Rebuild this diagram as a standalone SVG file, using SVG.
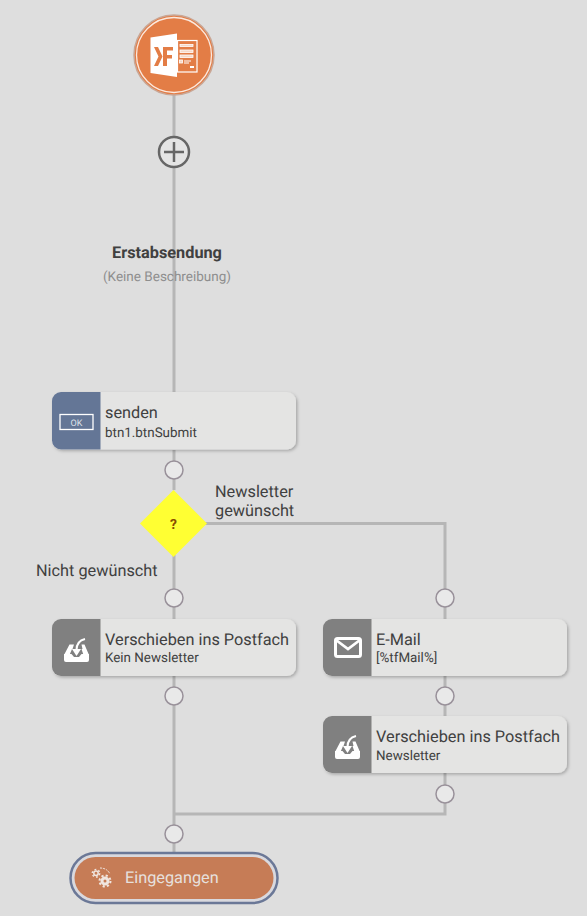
<svg xmlns="http://www.w3.org/2000/svg" width="587" height="916" viewBox="0 0 587 916">
<style>
text{font-family:Roboto,"Liberation Sans",sans-serif;text-rendering:geometricPrecision}
.line{fill:none;stroke:#b6b6b6;stroke-width:3}
.port{fill:#e9e9e9;stroke:#99919a;stroke-width:1.5}
.card{fill:#e4e4e3}
.t1{font-size:16.3px;fill:#404040}
.t2{font-size:13.4px;fill:#404040}
.lab{font-size:16.3px;fill:#404040}
.ic{fill:#fff}
</style>
<defs>
<filter id="sh" x="-10%" y="-20%" width="120%" height="140%"><feDropShadow dx="1.5" dy="1.5" stdDeviation="1.5" flood-color="#000" flood-opacity=".25"/></filter>
<g id="inbox">
<path class="ic" d="M-12.500,6H-5L-2.500,9H2.500L5,6H12.500V12Q12.500,14 10.500,14H-10.500Q-12.500,14 -12.500,12Z"/>
<path class="ic" d="M-12.500,7L-7,-3.500H-2.500L-4,1H-4.500L-7,7Z"/>
<path class="ic" d="M12.500,7L8,-3.500H5L6,1H5L7,7Z"/>
<path class="ic" d="M-4.500,1H4.500L0,8Z"/>
<path d="M0,2Q0,-7 8.500,-9" fill="none" stroke="#fff" stroke-width="2"/>
</g>
</defs>
<rect width="587" height="916" fill="#dedede"/>
<g id="connectors">
<path class="line" d="M174,90V392M174,450V490M174,555V619M174,676V852"/>
<path class="line" d="M205,523.500H445V619M445,676V716M445,773V814H174"/>
</g>
<g id="start">
<circle cx="174" cy="55" r="40" fill="#e37d46" stroke="#c9a695" stroke-width="1.500"/>
<circle cx="174" cy="55" r="37.500" fill="none" stroke="#fbe9df" stroke-width="1.300"/>
<path fill="#fff" d="M150.500,37.500L177,33.500V77L150.500,73Z"/>
<rect x="177.500" y="40.500" width="19.500" height="31.500" fill="#e37d46" stroke="#fff" stroke-width="1.200"/>
<g fill="#f6d8c6" stroke="#fff" stroke-width=".8">
<rect x="180" y="44.500" width="13" height="2"/>
<rect x="180" y="50" width="13" height="2.500"/>
<rect x="180" y="55" width="13" height="2.500"/>
<rect x="179.500" y="60" width="3" height="3"/>
</g>
<path fill="#fff" d="M184,60.500h7v1h-7zM184,62.500h5v1h-5zM190,66h4v2h-4z"/>
<path fill="#e37d46" d="M154,47h4l4.500,9.500L158,66h-4l4.500,-9.500ZM163,47h10v3.500h-6v4.500h5v3.500h-5v7.500h-4Z"/>
</g>
<g id="add">
<circle cx="174" cy="152" r="15" fill="#e4e4e4" stroke="#666" stroke-width="2.500"/>
<path d="M164,152H184M174,142V162" stroke="#666" stroke-width="2.500" fill="none"/>
</g>
<g id="title">
<text x="167" y="258" text-anchor="middle" font-weight="700" fill="#404040" style="font-size:16.3px">Erstabsendung</text>
<text x="167" y="281" text-anchor="middle" style="font-size:13.500px" fill="#8e8e8e">(Keine Beschreibung)</text>
</g>
<g id="senden" transform="translate(52,392)">
<rect class="card" width="244" height="57.500" rx="9" filter="url(#sh)"/>
<path d="M48.500,0H9A9,9 0 0 0 0,9V48.500A9,9 0 0 0 9,57.500H48.500Z" fill="#647696"/>
<rect x="8" y="22.500" width="33" height="15" fill="none" stroke="#fff" stroke-width="1.300"/>
<text x="24.500" y="34" text-anchor="middle" style="font-size:9px" fill="#dfe3ea">OK</text>
<text class="t1" x="53" y="26">senden</text>
<text class="t2" x="53" y="44.500">btn1.btnSubmit</text>
</g>
<circle id="p1" class="port" cx="174" cy="470" r="9"/>
<g id="decision">
<path d="M173.500,490L207,523.500L173.500,557L140,523.500Z" fill="#ffff33"/>
<text x="173.500" y="529" text-anchor="middle" font-weight="700" style="font-size:14px" fill="#8a4b00">?</text>
</g>
<g id="labels">
<text class="lab" x="215" y="497">Newsletter</text>
<text class="lab" x="215" y="516">gewünscht</text>
<text class="lab" x="36" y="576">Nicht gewünscht</text>
</g>
<circle id="p2" class="port" cx="174" cy="598" r="9"/>
<circle id="p3" class="port" cx="445" cy="598" r="9"/>
<g id="move1" transform="translate(52,619)">
<rect class="card" width="244" height="57" rx="9" filter="url(#sh)"/>
<path d="M48.500,0H9A9,9 0 0 0 0,9V48A9,9 0 0 0 9,57H48.500Z" fill="#808080"/>
<use href="#inbox" x="24.500" y="29"/>
<text class="t1" x="53" y="26">Verschieben ins Postfach</text>
<text class="t2" x="53" y="43">Kein Newsletter</text>
</g>
<g id="email" transform="translate(323,619)">
<rect class="card" width="244" height="57" rx="9" filter="url(#sh)"/>
<path d="M48.500,0H9A9,9 0 0 0 0,9V48A9,9 0 0 0 9,57H48.500Z" fill="#808080"/>
<rect x="12.500" y="19.500" width="25" height="18" rx="2" fill="none" stroke="#fff" stroke-width="3"/>
<path d="M13,21L25,30L37,21" fill="none" stroke="#fff" stroke-width="2.800"/>
<text class="t1" x="53" y="26">E-Mail</text>
<text class="t2" x="53" y="43">[%tfMail%]</text>
</g>
<circle id="p4" class="port" cx="174" cy="696" r="9"/>
<circle id="p5" class="port" cx="445" cy="696" r="9"/>
<g id="move2" transform="translate(323,716)">
<rect class="card" width="244" height="57" rx="9" filter="url(#sh)"/>
<path d="M48.500,0H9A9,9 0 0 0 0,9V48A9,9 0 0 0 9,57H48.500Z" fill="#808080"/>
<use href="#inbox" x="24.500" y="29"/>
<text class="t1" x="53" y="26">Verschieben ins Postfach</text>
<text class="t2" x="53" y="44">Newsletter</text>
</g>
<circle id="p6" class="port" cx="445" cy="794" r="9"/>
<circle id="p7" class="port" cx="174" cy="834" r="9"/>
<g id="end">
<rect x="70.500" y="853" width="207" height="50" rx="25" fill="#d9d9de" stroke="#6b7897" stroke-width="2.500"/>
<rect x="74.500" y="857" width="199" height="42" rx="21" fill="#c67c56"/>
<g fill="none" stroke="#f0e6e0">
<circle cx="96" cy="873.300" r="2.200" stroke-width="1.500"/>
<circle cx="96" cy="873.300" r="3.700" stroke-width="1.500" stroke-dasharray="1.800 2.070"/>
<circle cx="105" cy="881" r="3" stroke-width="3"/>
<circle cx="105" cy="881" r="5.500" stroke-width="2" stroke-dasharray="2.160 2.160"/>
<path d="M100,868Q107,868 110,874" stroke-width="1" stroke-dasharray="2 1"/>
</g>
<text x="125" y="883" style="font-size:16.3px" fill="#e6e0de">Eingegangen</text>
</g>
</svg>
